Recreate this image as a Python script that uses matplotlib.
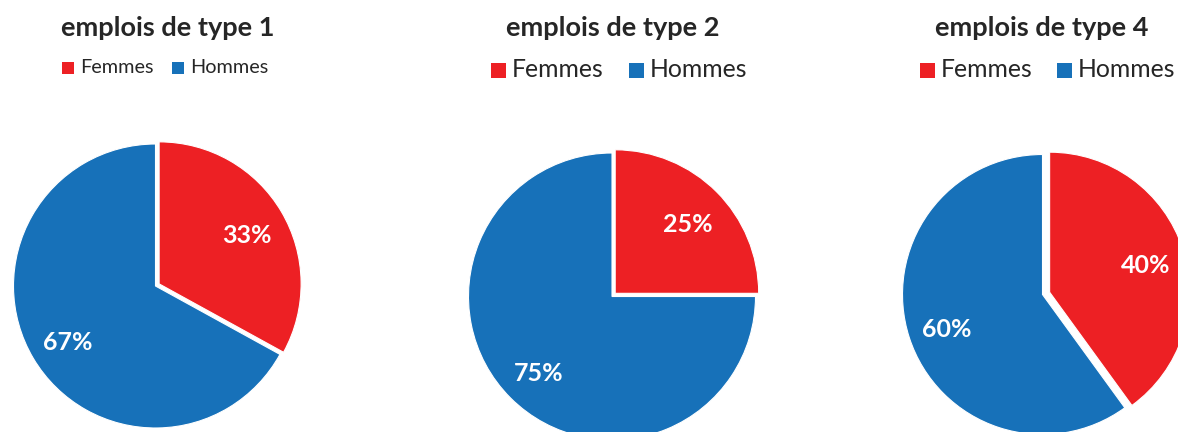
import matplotlib.pyplot as plt
from matplotlib.patches import Rectangle

W, H = 1178, 432

titles = ['emplois de type 1', 'emplois de type 2', 'emplois de type 4']
labels = ['Femmes', 'Hommes']
femmes = [33, 25, 40]
hommes = [67, 75, 60]

RED = '#ED2024'
BLUE = '#1771B9'
DARK = '#262626'

plt.rcParams['font.family'] = ['Lato', 'DejaVu Sans']

# layout of each panel in pixels (y measured from the top)
centers = [(155.5, 286), (612, 296.5), (1042.5, 294.5)]
radii = [142, 143.5, 140]
explode_px = [4.2, 4.5, 7.5]
title_x = [168, 613, 1042]
legend_x = [62, 491, 920]
legend_sq = [12, 15, 15]
legend_fs = [14.3, 17.8, 17.8]
legend_gap = [110, 138, 137]


def Y(y):
    return H - y


fig = plt.figure(figsize=(W / 100, H / 100), dpi=100)
ax = fig.add_axes([0, 0, 1, 1])

for i in range(3):
    cx, cy = centers[i]
    _, _, pct = ax.pie(
        [femmes[i], hommes[i]],
        colors=[RED, BLUE],
        explode=[explode_px[i], 0],
        startangle=90,
        counterclock=False,
        center=(cx, Y(cy)),
        radius=radii[i],
        autopct=lambda p: f'{round(p)}%',
        pctdistance=0.72,
        wedgeprops=dict(edgecolor='white', linewidth=0.8),
        textprops=dict(color='white', fontsize=18, fontweight='bold'),
        frame=True,
    )
    # nudge the percentages down a little
    for t in pct:
        px, py = t.get_position()
        t.set_position((px, py - 4))

    ax.text(title_x[i], Y(36), titles[i], ha='center', va='baseline',
            fontsize=19.5, fontweight='bold', color=DARK)

    # legend: coloured square + name
    s = legend_sq[i]
    base = 73 if i == 0 else 77
    x0 = legend_x[i]
    for j, (lab, col) in enumerate(zip(labels, [RED, BLUE])):
        xs = x0 + j * legend_gap[i]
        ax.add_patch(Rectangle((xs, Y(base + 0.5)), s, s, color=col, lw=0))
        ax.text(xs + s + 6, Y(base), lab, ha='left', va='baseline',
                fontsize=legend_fs[i], color=DARK)

ax.set_xlim(0, W)
ax.set_ylim(0, H)
ax.set_aspect('equal')
ax.axis('off')

fig.savefig('out.png', dpi=100)
